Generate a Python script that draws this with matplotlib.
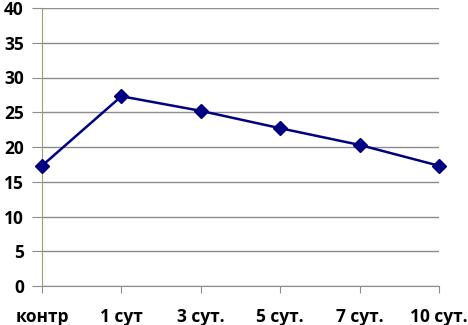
import matplotlib.pyplot as plt
import numpy as np

labels = ['контр', '1 сут', '3 сут.', '5 сут.', '7 сут.', '10 сут.']
values = [17.3, 27.3, 25.2, 22.7, 20.3, 17.3]

plt.rcParams['font.family'] = ['Open Sans', 'DejaVu Sans']

fig = plt.figure(figsize=(4.68, 3.25), dpi=100)
ax = fig.add_axes([42/468, 39/325, 397/468, 278/325])

x = np.arange(len(labels))
ax.plot(x, values, color='#000080', lw=1.8, marker='D', ms=7, zorder=3, clip_on=False)

ax.set_xlim(0, len(labels) - 1)
ax.set_ylim(0, 40)
ax.set_yticks(np.arange(0, 41, 5))
ax.set_xticks(x)
ax.set_xticklabels(labels)
ax.yaxis.grid(True, color='#8c8c8c', lw=1)
ax.set_axisbelow(True)

for s in ['top', 'right']:
    ax.spines[s].set_visible(False)
ax.spines['left'].set_color('#a09c78')
ax.spines['bottom'].set_color('#8c8c8c')

ax.tick_params(axis='y', length=7, color='#8c8c8c', pad=6)
ax.tick_params(axis='x', length=5, color='#8c8c8c', pad=11)
for t in ax.get_xticklabels() + ax.get_yticklabels():
    t.set_fontsize(12.5)
    t.set_fontweight('bold')

plt.savefig('out.png')
